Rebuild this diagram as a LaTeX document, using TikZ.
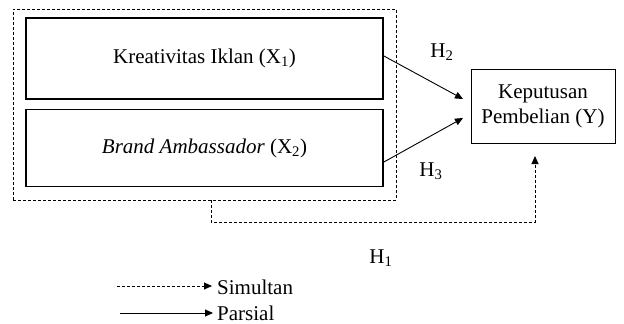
\documentclass[tikz,border=0pt]{standalone}
\usepackage{fontspec}
\setmainfont{Liberation Serif}
\usetikzlibrary{arrows.meta,calc}
\tikzset{
  varbox/.style={draw, line width=1.8pt, inner sep=0pt},
  ybox/.style={draw, line width=0.9pt, inner sep=0pt, align=center},
  dashline/.style={line width=0.9pt, dash pattern=on 3pt off 2pt},
  solidline/.style={line width=0.9pt},
  tip/.style={-{Triangle[length=8pt,width=7pt]}},
  lbl/.style={inner sep=0pt}
}
\begin{document}
\begin{tikzpicture}[x=1pt,y=-1pt,font=\fontsize{21}{25}\selectfont]
\useasboundingbox (0,0) rectangle (624,324);
\node[draw, dashline, minimum width=383pt, minimum height=191pt] (outer) at (204.5,104.5) {};
\node[varbox, minimum width=357pt, minimum height=81pt] (box1) at (204.5,58.5) {Kreativitas Iklan (X\textsubscript{1})};
\node[varbox, minimum width=357pt, minimum height=77pt] (box2) at (204.5,148) {\textit{Brand Ambassador} (X\textsubscript{2})};
\node[ybox, minimum width=144pt, minimum height=74pt] (Y) at (543,106) {Keputusan\\Pembelian (Y)};
\coordinate (h2s) at ($(box1.east)+(0,-2.5)$);
\coordinate (h2e) at (463,99);
\coordinate (h3s) at ($(box2.east)+(0,14)$);
\coordinate (h3e) at (463,118);
\draw[solidline, tip] (h2s) -- (h2e);
\draw[solidline, tip] (h3s) -- (h3e);
\node[lbl] (H2) at (442,52) {H\textsubscript{2}};
\node[lbl] (H3) at (431,171) {H\textsubscript{3}};
\coordinate (ds) at (211,200);
\coordinate (dc1) at (211,222);
\coordinate (dc2) at (535,222);
\coordinate (de) at (535,156);
\draw[dashline, tip] (ds) -- (dc1) -- (dc2) -- (de);
\node[lbl] (H1) at (381,258) {H\textsubscript{1}};
\node[lbl, anchor=west] (sim) at (217,287) {Simultan};
\node[lbl, anchor=west] (par) at (217,313) {Parsial};
\coordinate (l1) at (117,286);
\coordinate (l2) at (120,313);
\draw[dashline, tip] (l1) -- ($(l1 -| sim.west)+(-5,0)$);
\draw[solidline, tip] (l2) -- ($(l2 -| par.west)+(-4,0)$);
\end{tikzpicture}
\end{document}
